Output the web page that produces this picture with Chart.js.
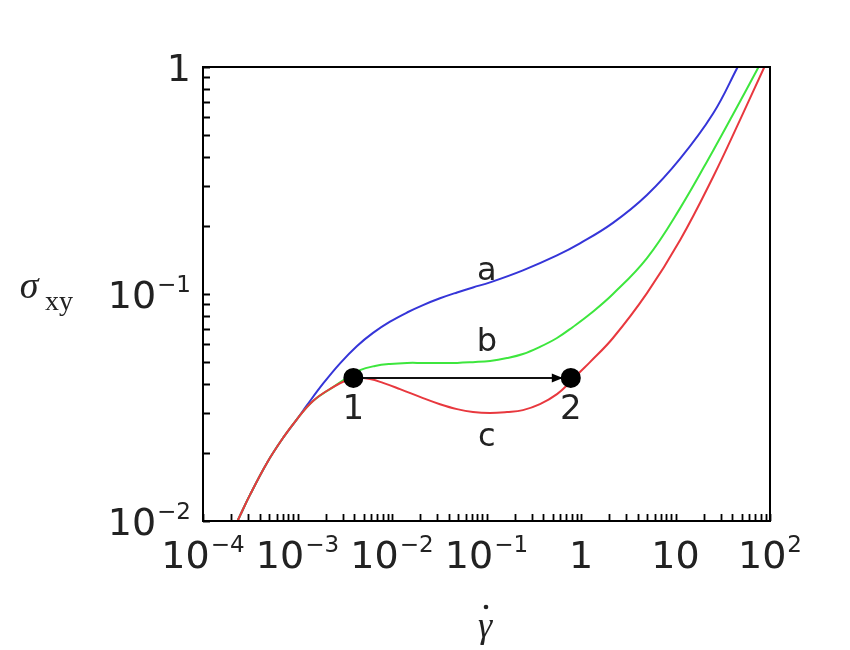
<!DOCTYPE html>
<html>
<head>
<meta charset="utf-8">
<script src="https://cdn.jsdelivr.net/npm/chart.js@4.4.1/dist/chart.umd.min.js"></script>
<style>
    html, body { margin: 0; padding: 0; background: #fff; }
</style>
</head>
<body>
<canvas id="graphique-flux" width="850" height="650"></canvas>
<script>
// Branche basse commune aux trois courbes
const rateLow = [1.75e-4, 2.344e-4, 3.14e-4, 4.75e-4, 7.03e-4, 9.89e-4]
const stressLow = [0.00784, 0.0101, 0.01303, 0.01803, 0.02323, 0.02812]

// Courbe a (bleue)
const rateA = [1.262e-3, 1.862e-3, 2.82e-3, 4.27e-3, 6.3e-3, 9.53e-3, 0.01442, 0.0213, 0.0322, 0.0488, 0.0719, 0.109, 0.243, 0.557, 0.975, 2.18, 4.99, 11.2, 24.9, 44.8, 60]
const stressA = [0.0324, 0.04025, 0.04951, 0.05902, 0.06742, 0.07551, 0.08288, 0.08935, 0.09574, 0.1016, 0.1069, 0.1125, 0.1271, 0.1479, 0.1671, 0.2057, 0.2729, 0.3945, 0.622, 0.9879, 1.26]

// Courbe b (verte)
const rateB = [1.46e-3, 2.38e-3, 3.34e-3, 4.58e-3, 6.61e-3, 9.53e-3, 0.01442, 0.0213, 0.0322, 0.0488, 0.0719, 0.109, 0.165, 0.243, 0.368, 0.557, 0.822, 1.245, 2.18, 4.99, 11.2, 24.9, 44.8, 72.8, 100]
const stressB = [0.0338, 0.0389, 0.0427, 0.0462, 0.0482, 0.0492, 0.0497, 0.0497, 0.0497, 0.0497, 0.0501, 0.0507, 0.0522, 0.0544, 0.0585, 0.064, 0.0716, 0.0816, 0.1, 0.144, 0.239, 0.427, 0.667, 0.97, 1.25]

// Courbe c (rouge)
const rateC = [1.46e-3, 2.38e-3, 3.34e-3, 4.06e-3, 5.85e-3, 8.04e-3, 0.01216, 0.0213, 0.0322, 0.0488, 0.0719, 0.109, 0.165, 0.243, 0.368, 0.557, 0.766, 0.975, 1.245, 2.18, 4.99, 11.2, 24.9, 48.2, 84.3, 113]
const stressC = [0.0338, 0.0389, 0.0418, 0.0427, 0.0422, 0.0406, 0.0381, 0.0348, 0.0327, 0.0311, 0.0302, 0.0299, 0.0302, 0.0308, 0.0327, 0.0362, 0.0409, 0.0453, 0.0501, 0.064, 0.1009, 0.173, 0.327, 0.585, 0.97, 1.26]

// Points 1 et 2 (flèche)
const jumpRate = [3.9e-3, 0.78]
const jumpStress = [0.0427, 0.0427]
const jumpLabels = ["1", "2"]

// Étiquettes des courbes
const curveNames = ["a", "b", "c"]
const curveLabelRate = [0.101, 0.101, 0.101]
const curveLabelStress = [0.125, 0.0608, 0.0234]

// Graduations : [mantisse, exposant]
const xDecades = [-4, -3, -2, -1, 0, 1, 2]
const xTickLabels = [["10", "−4"], ["10", "−3"], ["10", "−2"], ["10", "−1"], ["1", ""], ["10", ""], ["10", "2"]]
const yDecades = [-2, -1, 0]
const yTickLabels = [["10", "−2"], ["10", "−1"], ["1", ""]]

function logTicks(decades) {
    const values = []
    for (let i = 0; i < decades.length; i++) {
        const base = Math.pow(10, decades[i])
        values.push(base)
        if (i < decades.length - 1) {
            for (let k = 2; k <= 9; k++) values.push(k * base)
        }
    }
    return values
}
const xTickValues = logTicks(xDecades)
const yTickValues = logTicks(yDecades)

function toPoints(rates, stresses) {
    return rates.map((r, i) => ({ x: r, y: stresses[i] }))
}

const mainFont = "38px 'DejaVu Sans'"
const expFont = "23px 'DejaVu Sans'"

// écrit "10" + exposant ; align = "center" ou "right"
function drawPower(ctx, label, x, baseline, align) {
    ctx.font = mainFont
    const wMain = ctx.measureText(label[0]).width
    ctx.font = expFont
    const wExp = label[1] ? ctx.measureText(label[1]).width + 1 : 0
    const total = wMain + wExp
    const left = align === "right" ? x - total : x - total / 2
    ctx.textAlign = "left"
    ctx.textBaseline = "alphabetic"
    ctx.font = mainFont
    ctx.fillText(label[0], left, baseline)
    if (label[1]) {
        ctx.font = expFont
        ctx.fillText(label[1], left + wMain + 1, baseline - 16)
    }
}

const decorations = {
    id: "decorations",
    afterDraw(chart) {
        const ctx = chart.ctx
        const area = chart.chartArea
        const xs = chart.scales.x
        const ys = chart.scales.y
        ctx.save()
        // cadre
        ctx.strokeStyle = "#000"
        ctx.lineWidth = 2
        ctx.strokeRect(area.left, area.top, area.right - area.left, area.bottom - area.top)
        // petites graduations vers l'intérieur
        ctx.lineWidth = 1.8
        ctx.beginPath()
        for (const v of xTickValues) {
            const px = Math.round(xs.getPixelForValue(v)) + 0.5
            ctx.moveTo(px, area.bottom)
            ctx.lineTo(px, area.bottom - 7)
        }
        for (const v of yTickValues) {
            const py = Math.round(ys.getPixelForValue(v)) + 0.5
            ctx.moveTo(area.left, py)
            ctx.lineTo(area.left + 7, py)
        }
        ctx.stroke()
        // pointe de flèche
        const p2x = xs.getPixelForValue(jumpRate[1])
        const p2y = ys.getPixelForValue(jumpStress[1])
        const tip = p2x - 8
        ctx.fillStyle = "#000"
        ctx.beginPath()
        ctx.moveTo(tip, p2y)
        ctx.lineTo(tip - 11, p2y - 4.5)
        ctx.lineTo(tip - 11, p2y + 4.5)
        ctx.closePath()
        ctx.fill()
        // étiquettes des graduations
        ctx.fillStyle = "#222"
        xDecades.forEach((d, i) => {
            drawPower(ctx, xTickLabels[i], xs.getPixelForValue(Math.pow(10, d)), area.bottom + 47, "center")
        })
        yDecades.forEach((d, i) => {
            drawPower(ctx, yTickLabels[i], area.left - 12, ys.getPixelForValue(Math.pow(10, d)) + 14, "right")
        })
        // textes des courbes et points
        ctx.font = "32px 'DejaVu Sans'"
        ctx.textAlign = "center"
        ctx.textBaseline = "middle"
        for (let i = 0; i < curveNames.length; i++) {
            ctx.fillText(curveNames[i], xs.getPixelForValue(curveLabelRate[i]), ys.getPixelForValue(curveLabelStress[i]))
        }
        ctx.font = "34px 'DejaVu Sans'"
        for (let i = 0; i < jumpLabels.length; i++) {
            ctx.fillText(jumpLabels[i], xs.getPixelForValue(jumpRate[i]), ys.getPixelForValue(jumpStress[i]) + 32)
        }
        // titres des axes
        ctx.font = "italic 38px 'Liberation Serif'"
        ctx.fillText("σ", 29, 288)
        ctx.font = "28px 'Liberation Serif'"
        ctx.textAlign = "left"
        ctx.fillText("xy", 45, 303)
        ctx.textAlign = "center"
        ctx.font = "italic 36px 'Liberation Serif'"
        ctx.fillText("γ", 485, 628)
        ctx.beginPath()
        ctx.arc(486, 607, 2.3, 0, 2 * Math.PI)
        ctx.fill()
        ctx.restore()
    }
}

const commonLine = {
    showLine: true,
    pointRadius: 0,
    borderWidth: 2,
    tension: 0.4,
    fill: false,
}

const data = {
    datasets: [
        {
            label: "1 → 2",
            data: toPoints(jumpRate, jumpStress),
            showLine: true,
            borderColor: "#111",
            borderWidth: 2,
            pointRadius: 9,
            pointBackgroundColor: "#000",
            pointBorderColor: "#000",
            order: 0,
        },
        {
            ...commonLine,
            label: "c",
            data: toPoints([...rateLow, ...rateC], [...stressLow, ...stressC]),
            borderColor: "#e8383e",
            order: 1,
        },
        {
            ...commonLine,
            label: "b",
            data: toPoints([...rateLow, ...rateB], [...stressLow, ...stressB]),
            borderColor: "#3de63d",
            order: 2,
        },
        {
            ...commonLine,
            label: "a",
            data: toPoints([...rateLow, ...rateA], [...stressLow, ...stressA]),
            borderColor: "#3535d8",
            order: 3,
        },
    ],
}

const config = {
    type: "scatter",
    data: data,
    options: {
        responsive: false,
        animation: false,
        layout: { padding: { top: 67, right: 80, left: 0, bottom: 0 } },
        plugins: {
            legend: { display: false },
            tooltip: { enabled: false },
        },
        scales: {
            x: {
                type: "logarithmic",
                min: 1e-4,
                max: 100,
                grid: { display: false, drawTicks: false },
                border: { display: false },
                ticks: { display: false },
                afterFit: scale => { scale.height = 129 },
            },
            y: {
                type: "logarithmic",
                min: 0.01,
                max: 1,
                grid: { display: false, drawTicks: false },
                border: { display: false },
                ticks: { display: false },
                afterFit: scale => { scale.width = 203 },
            },
        },
    },
    plugins: [decorations],
}

const graphiqueFlux = new Chart(document.querySelector("#graphique-flux"), config)
</script>
</body>
</html>
